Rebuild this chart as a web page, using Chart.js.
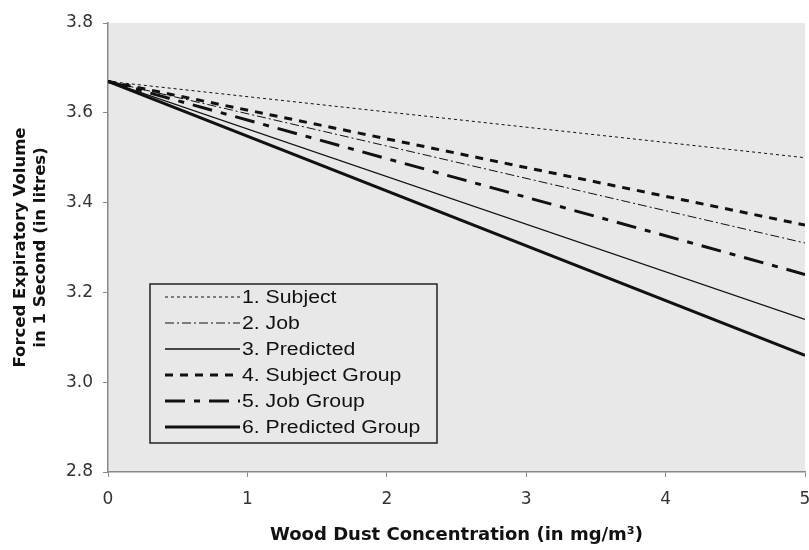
<!DOCTYPE html>
<html>
<head>
<meta charset="utf-8">
<script src="https://cdn.jsdelivr.net/npm/chart.js@4"></script>
<style>
  html, body { margin: 0; padding: 0; background: #fff; }
  #wrap { width: 809px; height: 550px; }
</style>
</head>
<body>
<div id="wrap"><canvas id="fevChart" width="809" height="550"></canvas></div>
<script>
// dust concentration (mg/m3) at both ends of each fitted line
const xValues = [0, 5];
const seriesNames = ["1. Subject", "2. Job", "3. Predicted", "4. Subject Group", "5. Job Group", "6. Predicted Group"];
const subject = [3.67, 3.50];
const job = [3.67, 3.31];
const predicted = [3.67, 3.14];
const subjectGroup = [3.67, 3.35];
const jobGroup = [3.67, 3.24];
const predictedGroup = [3.67, 3.06];
const xTicks = [0, 1, 2, 3, 4, 5];
const yTicks = [2.8, 3.0, 3.2, 3.4, 3.6, 3.8];

const allValues = [subject, job, predicted, subjectGroup, jobGroup, predictedGroup];
const styles = [
    { width: 1, dash: [3, 3] },
    { width: 1, dash: [9, 3, 2, 3] },
    { width: 1.3, dash: [] },
    { width: 3, dash: [8, 7] },
    { width: 3, dash: [20, 9, 6, 9] },
    { width: 3, dash: [] }
];

const datasets = seriesNames.map((name, i) => ({
    label: name,
    data: xValues.map((x, j) => ({ x: x, y: allValues[i][j] })),
    borderColor: "#111",
    borderWidth: styles[i].width,
    borderDash: styles[i].dash,
    pointRadius: 0,
    fill: false,
    tension: 0
}));

// grey plot area
const plotBg = {
    id: "plotBg",
    beforeDraw(chart) {
        const a = chart.chartArea;
        const c = chart.ctx;
        c.save();
        c.fillStyle = "#e8e8e8";
        c.fillRect(a.left, a.top, a.right - a.left, a.bottom - a.top);
        c.restore();
    }
};

// boxed legend drawn inside the plot
const boxLegend = {
    id: "boxLegend",
    afterDatasetsDraw(chart) {
        const c = chart.ctx;
        const bx = 150, by = 284, bw = 287, bh = 159;
        c.save();
        c.strokeStyle = "#222";
        c.lineWidth = 1.5;
        c.strokeRect(bx, by, bw, bh);
        c.font = "18px 'Liberation Sans', Arial, sans-serif";
        c.fillStyle = "#111";
        c.textBaseline = "middle";
        chart.data.datasets.forEach((ds, i) => {
            const y = by + 13 + i * 26;
            c.beginPath();
            c.strokeStyle = "#111";
            c.lineWidth = ds.borderWidth;
            c.setLineDash(ds.borderDash);
            c.moveTo(165, y);
            c.lineTo(240, y);
            c.stroke();
            c.setLineDash([]);
            // the source lettering is a little wider than Liberation Sans
            c.save();
            c.translate(242, y + 1);
            c.scale(1.18, 1);
            c.fillText(ds.label, 0, 0);
            c.restore();
        });
        c.restore();
    }
};

const tickFont = { family: "'DejaVu Sans', Verdana, sans-serif", size: 17 };
const xTitleFont = { family: "'DejaVu Sans', Verdana, sans-serif", size: 18, weight: "bold" };
const yTitleFont = { family: "'DejaVu Sans', Verdana, sans-serif", size: 16.5, weight: "bold" };

const ctx = document.getElementById("fevChart").getContext("2d");
const fevChart = new Chart(ctx, {
    type: "line",
    data: { datasets: datasets },
    options: {
        responsive: false,
        animation: false,
        layout: { padding: { top: 23, right: 4, left: 0, bottom: 0 } },
        plugins: {
            legend: { display: false },
            tooltip: { enabled: false }
        },
        scales: {
            x: {
                type: "linear",
                min: 0,
                max: 5,
                afterBuildTicks: axis => { axis.ticks = xTicks.map(v => ({ value: v })); },
                ticks: { color: "#333", font: tickFont, padding: 12, maxRotation: 0 },
                grid: { drawOnChartArea: false, drawTicks: true, tickLength: 5, color: "#888" },
                border: { color: "#888", width: 1.5 },
                title: { display: true, text: "Wood Dust Concentration (in mg/m\u00B3)", color: "#111", font: xTitleFont, padding: { top: 16 } },
                afterFit: axis => { axis.height = 78; axis.paddingLeft = 0; axis.paddingRight = 0; }
            },
            y: {
                min: 2.8,
                max: 3.8,
                afterBuildTicks: axis => { axis.ticks = yTicks.map(v => ({ value: v })); },
                ticks: { color: "#333", font: tickFont, padding: 10, callback: v => v.toFixed(1) },
                grid: { drawOnChartArea: false, drawTicks: true, tickLength: 5, color: "#888" },
                border: { color: "#888", width: 1.5 },
                title: { display: true, text: ["Forced Expiratory Volume", "in 1 Second (in litres)"], color: "#111", font: yTitleFont, padding: { top: 11, bottom: 0 } },
                afterFit: axis => { axis.width = 108; }
            }
        }
    },
    plugins: [plotBg, boxLegend]
});
</script>
</body>
</html>
